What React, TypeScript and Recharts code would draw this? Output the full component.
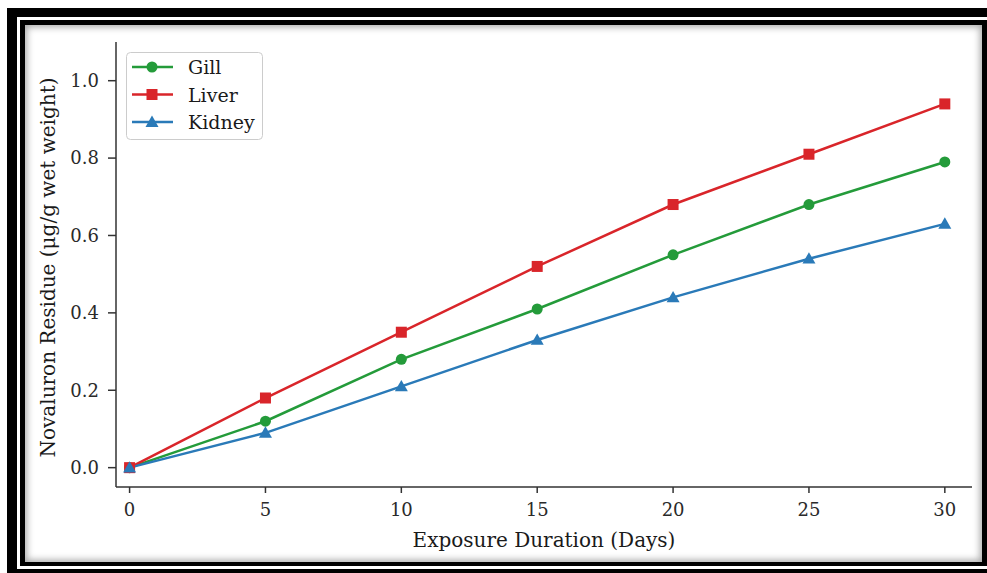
import { Legend, Line, LineChart, XAxis, YAxis } from "recharts";

const days = [0, 5, 10, 15, 20, 25, 30];
const gill = [0, 0.12, 0.28, 0.41, 0.55, 0.68, 0.79];
const liver = [0, 0.18, 0.35, 0.52, 0.68, 0.81, 0.94];
const kidney = [0, 0.09, 0.21, 0.33, 0.44, 0.54, 0.63];
const xTicks = [0, 5, 10, 15, 20, 25, 30];
const yTicks = [0, 0.2, 0.4, 0.6, 0.8, 1.0];

const data = days.map((d, i) => ({
  day: d,
  gill: gill[i],
  liver: liver[i],
  kidney: kidney[i],
}));

const GREEN = "#249b3a";
const RED = "#d9252a";
const BLUE = "#2a7ab8";
const INK = "#333333";
const FONT = "DejaVu Serif";

const series = [
  { key: "gill", name: "Gill", color: GREEN, shape: "circle" },
  { key: "liver", name: "Liver", color: RED, shape: "square" },
  { key: "kidney", name: "Kidney", color: BLUE, shape: "triangle" },
];

function Marker({ cx, cy, color, shape }: any) {
  if (cx == null || cy == null) return null;
  if (shape === "square") {
    return <rect x={cx - 5.5} y={cy - 5.5} width={11} height={11} fill={color} />;
  }
  if (shape === "triangle") {
    const r = 6.5;
    return (
      <polygon
        points={`${cx},${cy - r} ${cx - r},${cy + r * 0.75} ${cx + r},${cy + r * 0.75}`}
        fill={color}
      />
    );
  }
  return <circle cx={cx} cy={cy} r={5.5} fill={color} />;
}

// legend drawn as svg so it uses the same serif font as the axes
function LegendBox() {
  return (
    <svg width={137} height={88} style={{ display: "block" }}>
      <rect
        x={0.5}
        y={0.5}
        width={136}
        height={87}
        rx={4}
        fill="rgba(255,255,255,0.85)"
        stroke="#cccccc"
      />
      {series.map((s, i) => {
        const y = 15 + i * 27.5;
        return (
          <g key={s.key}>
            <line x1={6} y1={y} x2={47} y2={y} stroke={s.color} strokeWidth={2.5} />
            <Marker cx={26} cy={y} color={s.color} shape={s.shape} />
            <text
              x={62}
              y={y}
              dominantBaseline="central"
              fontFamily={FONT}
              fontSize={19}
              fill="#1a1a1a"
            >
              {s.name}
            </text>
          </g>
        );
      })}
    </svg>
  );
}

function YTitle({ viewBox }: any) {
  const cx = 48;
  const cy = viewBox ? viewBox.y + viewBox.height / 2 + 3 : 267;
  return (
    <text
      x={cx}
      y={cy}
      transform={`rotate(-90 ${cx} ${cy})`}
      textAnchor="middle"
      dominantBaseline="central"
      fontFamily={FONT}
      fontSize={20}
      fill="#1a1a1a"
    >
      Novaluron Residue (μg/g wet weight)
    </text>
  );
}

function XTitle({ viewBox }: any) {
  const cx = viewBox ? viewBox.x + viewBox.width / 2 : 544;
  return (
    <text
      x={cx}
      y={547}
      textAnchor="middle"
      fontFamily={FONT}
      fontSize={20}
      fill="#1a1a1a"
    >
      Exposure Duration (Days)
    </text>
  );
}

const tickStyle = { fontFamily: FONT, fontSize: 18, fill: "#2a2a2a" };

export default function App() {
  return (
    <div
      style={{
        position: "absolute",
        left: 0,
        top: 0,
        width: 987,
        height: 573,
        overflow: "hidden",
        background: "#ffffff",
      }}
    >
      <div
        style={{
          position: "absolute",
          left: 7,
          top: 8,
          width: 1000,
          height: 600,
          background: "#000",
        }}
      />
      <div
        style={{
          position: "absolute",
          left: 17,
          top: 17,
          width: 973,
          height: 552,
          background: "#fff",
        }}
      />
      <div
        style={{
          position: "absolute",
          left: 20,
          top: 20,
          width: 967,
          height: 546,
          background: "#000",
        }}
      />
      <div
        style={{
          position: "absolute",
          left: 25,
          top: 25,
          width: 957,
          height: 537,
          background: "#fff",
          boxShadow: "inset 0 0 7px 2px rgba(0,0,0,0.35)",
        }}
      />
      <div style={{ position: "absolute", left: 0, top: 0 }}>
        <LineChart
          width={987}
          height={573}
          data={data}
          margin={{ top: 42, right: 15, bottom: 26, left: 0 }}
        >
          <XAxis
            dataKey="day"
            type="number"
            domain={[-0.5, 31]}
            allowDataOverflow
            ticks={xTicks}
            interval={0}
            height={60}
            tickSize={6}
            tickMargin={10}
            tick={tickStyle}
            stroke={INK}
            strokeWidth={1.5}
            label={<XTitle />}
          />
          <YAxis
            type="number"
            domain={[-0.05, 1.1]}
            allowDataOverflow
            ticks={yTicks}
            interval={0}
            width={116}
            tickSize={8}
            tickMargin={9}
            tick={tickStyle}
            tickFormatter={(v: number) => v.toFixed(1)}
            stroke={INK}
            strokeWidth={1.5}
            label={<YTitle />}
          />
          <Legend
            layout="vertical"
            align="center"
            verticalAlign="middle"
            wrapperStyle={{ left: 126, top: 52, width: 137, height: 88 }}
            content={() => <LegendBox />}
          />
          {series.map((s) => (
            <Line
              key={s.key}
              dataKey={s.key}
              name={s.name}
              type="linear"
              stroke={s.color}
              strokeWidth={2.5}
              isAnimationActive={false}
              dot={(p: any) => (
                <Marker key={`${s.key}-${p.index}`} cx={p.cx} cy={p.cy} color={s.color} shape={s.shape} />
              )}
              activeDot={false}
            />
          ))}
        </LineChart>
      </div>
    </div>
  );
}
